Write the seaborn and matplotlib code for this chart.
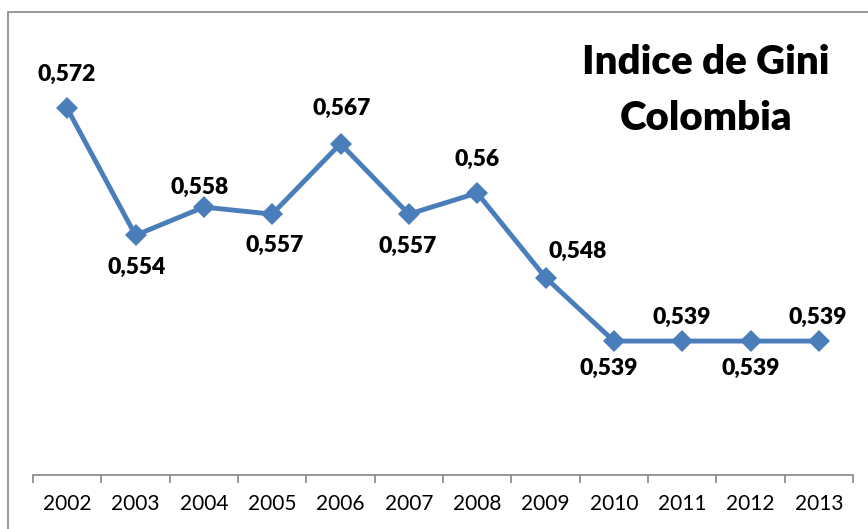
import matplotlib
matplotlib.use("Agg")
import matplotlib.pyplot as plt
import seaborn as sns
import pandas as pd
from matplotlib.patches import Rectangle

years = [2002, 2003, 2004, 2005, 2006, 2007, 2008, 2009, 2010, 2011, 2012, 2013]
gini = [0.572, 0.554, 0.558, 0.557, 0.567, 0.557, 0.56, 0.548, 0.539, 0.539, 0.539, 0.539]
labels = ["0,572", "0,554", "0,558", "0,557", "0,567", "0,557", "0,56", "0,548",
          "0,539", "0,539", "0,539", "0,539"]
title = "Indice de Gini\nColombia"

# label offsets in pixels (dx, dy upward positive)
offsets = [(0, 34), (1, -32), (-4, 20), (2, -31), (1, 35), (-1, -32), (0, 34),
           (32, 26), (-5, -27), (0, 24), (0, -27), (-1, 24)]

sns.set_theme(style="white")
plt.rcParams['font.family'] = ['Lato', 'DejaVu Sans']

W, H = 868, 529
fig = plt.figure(figsize=(W / 100, H / 100), dpi=100)
fig.patch.set_facecolor("white")

# outer chart border (left and top visible)
fig.patches.append(Rectangle((8 / W, -0.05), 1.1, 1 - 12 / H + 0.05,
                             transform=fig.transFigure, fill=False,
                             edgecolor="#868686", linewidth=1.2))

ax = fig.add_axes([33 / W, 1 - 475 / H, (853 - 33) / W, (475 - 52) / H])
df = pd.DataFrame({"year": years, "gini": gini})
color = "#4a7ebb"
sns.lineplot(data=df, x="year", y="gini", ax=ax, color=color, linewidth=3.5,
             marker="D", markersize=11, markeredgecolor=color, markeredgewidth=0)

ax.set_xlim(years[0] - 0.5, years[-1] + 0.5)
ax.set_ylim(0.52, 0.58)
ax.set_xlabel("")
ax.set_ylabel("")
ax.set_yticks([])
ax.set_xticks(years)
ax.set_xticklabels([str(y) for y in years], fontsize=15)
ax.set_xticks([y - 0.5 for y in years] + [years[-1] + 0.5], minor=True)
ax.tick_params(axis="x", which="major", length=0, pad=14, colors="black")
ax.tick_params(axis="x", which="minor", length=6, width=1.2, color="#868686",
               direction="out", bottom=True)
for s in ["top", "right", "left"]:
    ax.spines[s].set_visible(False)
ax.spines["bottom"].set_color("#868686")
ax.spines["bottom"].set_linewidth(1.2)
ax.patch.set_alpha(0)

for x, y, lab, (dx, dy) in zip(years, gini, labels, offsets):
    ax.annotate(lab, (x, y), xytext=(dx, dy), textcoords="offset pixels",
                ha="center", va="center", fontsize=16.5, fontweight="heavy",
                color="black")

for line, yc in zip(title.split("\n"), [63, 118]):
    fig.text(706 / W, 1 - yc / H, line, ha="center", va="center", fontsize=29,
             fontweight="heavy", color="black")

fig.savefig("out.png", dpi=100, facecolor="white")
